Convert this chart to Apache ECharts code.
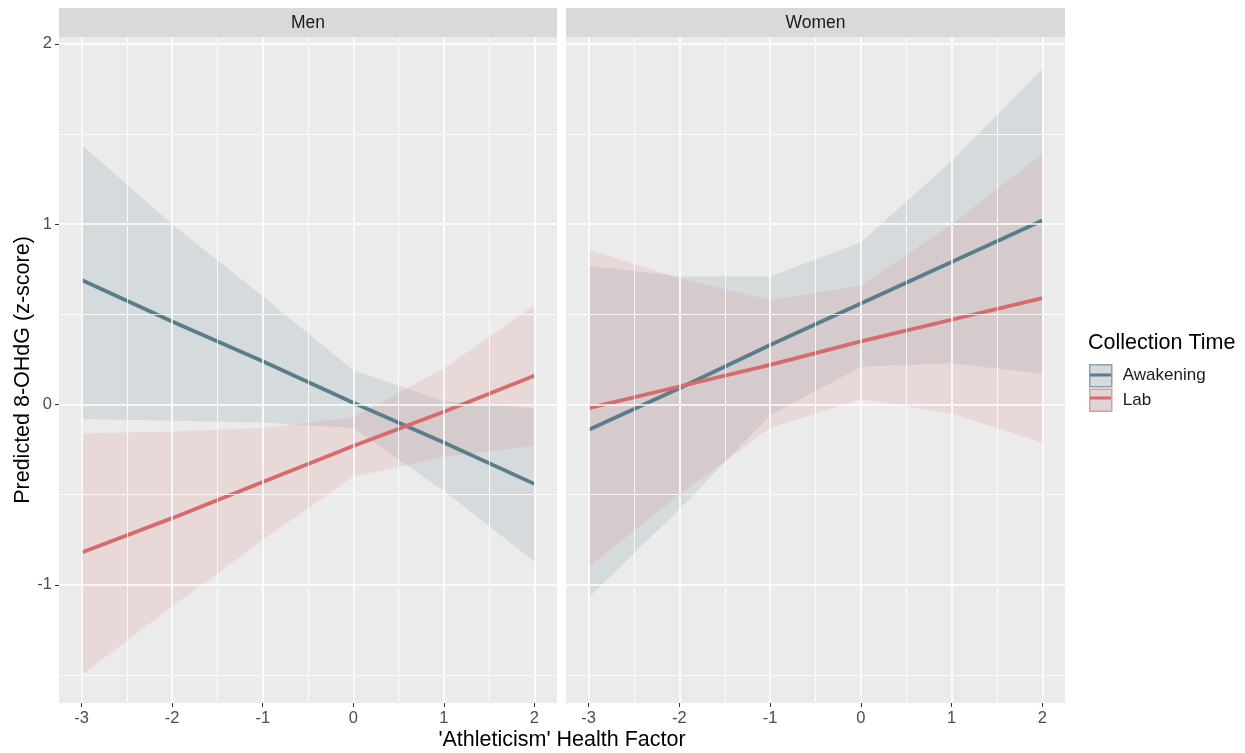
<!DOCTYPE html>
<html><head><meta charset="utf-8">
<script src="https://cdn.jsdelivr.net/npm/echarts@6/dist/echarts.min.js"></script>
<style>html,body{margin:0;padding:0;background:#fff}#c{width:1245px;height:753px}</style>
</head><body><div id="c"></div>
<script>
// ---- data ----
const xValues = [-3, -2, -1, 0, 1, 2];
const panels = ['Men', 'Women'];
const groups = ['Awakening', 'Lab'];

const menAwakFit = [0.69, 0.46, 0.24, 0.01, -0.21, -0.44];
const menAwakLo  = [-0.08, -0.09, -0.10, -0.13, -0.48, -0.87];
const menAwakHi  = [1.44, 1.00, 0.60, 0.19, 0.02, -0.02];
const menLabFit  = [-0.82, -0.63, -0.43, -0.23, -0.04, 0.16];
const menLabLo   = [-1.50, -1.12, -0.75, -0.40, -0.29, -0.23];
const menLabHi   = [-0.16, -0.15, -0.13, -0.07, 0.20, 0.55];

const womAwakFit = [-0.14, 0.09, 0.33, 0.56, 0.79, 1.02];
const womAwakLo  = [-1.07, -0.58, -0.06, 0.21, 0.23, 0.17];
const womAwakHi  = [0.77, 0.71, 0.71, 0.90, 1.35, 1.86];
const womLabFit  = [-0.02, 0.10, 0.22, 0.35, 0.47, 0.59];
const womLabLo   = [-0.90, -0.50, -0.13, 0.03, -0.05, -0.21];
const womLabHi   = [0.86, 0.70, 0.58, 0.66, 1.00, 1.39];

const xTickValues = [-3, -2, -1, 0, 1, 2];
const xMinorValues = [-2.5, -1.5, -0.5, 0.5, 1.5];
const yTickValues = [-1, 0, 1, 2];
const yMinorValues = [-1.5, -0.5, 0.5, 1.5];

const xTitle = "'Athleticism' Health Factor";
const yTitle = 'Predicted 8-OHdG (z-score)';
const legendTitle = 'Collection Time';

// ---- styling ----
const FONT = 'Liberation Sans, Arial, sans-serif';
const lineColors = {Awakening: '#5A7D8C', Lab: '#D76B6B'};
const fillColors = {Awakening: 'rgba(90,125,140,0.15)', Lab: 'rgba(215,107,107,0.15)'};
const X_MIN = -3.25, X_MAX = 2.25, Y_MIN = -1.655, Y_MAX = 2.038;

const panelData = [
  {Awakening: [menAwakFit, menAwakLo, menAwakHi], Lab: [menLabFit, menLabLo, menLabHi]},
  {Awakening: [womAwakFit, womAwakLo, womAwakHi], Lab: [womLabFit, womLabLo, womLabHi]}
];

const grids = [
  {left: 59, top: 37, width: 498, height: 666},
  {left: 566, top: 37, width: 499, height: 666}
];

const chart = echarts.init(document.getElementById('c'), null, {renderer: 'canvas'});

const xAxes = grids.map((g, i) => ({
  type: 'value', gridIndex: i, min: X_MIN, max: X_MAX, position: 'bottom',
  axisLine: {show: false, onZero: false}, splitLine: {show: false},
  axisTick: {show: true, length: 4, lineStyle: {color: '#333', width: 1}, customValues: xTickValues},
  axisLabel: {customValues: xTickValues, color: '#4D4D4D', fontSize: 16.5, fontFamily: FONT, margin: 7}
}));
const yAxes = grids.map((g, i) => ({
  type: 'value', gridIndex: i, min: Y_MIN, max: Y_MAX, position: 'left',
  axisLine: {show: false, onZero: false}, splitLine: {show: false},
  axisTick: {show: i === 0, length: 4, lineStyle: {color: '#333', width: 1}, customValues: yTickValues},
  axisLabel: {show: i === 0, customValues: yTickValues, color: '#4D4D4D', fontSize: 16.5, fontFamily: FONT, margin: 7}
}));

const series = [];
grids.forEach((g, i) => {
  const md = [];
  yMinorValues.forEach(v => md.push({yAxis: v, lineStyle: {color: '#fff', width: 0.8, type: 'solid'}}));
  xMinorValues.forEach(v => md.push({xAxis: v, lineStyle: {color: '#fff', width: 0.8, type: 'solid'}}));
  yTickValues.forEach(v => md.push({yAxis: v, lineStyle: {color: '#fff', width: 1.6, type: 'solid'}}));
  xTickValues.forEach(v => md.push({xAxis: v, lineStyle: {color: '#fff', width: 1.6, type: 'solid'}}));
  series.push({
    type: 'line', name: 'grid' + i, xAxisIndex: i, yAxisIndex: i, data: [], z: 1, silent: true,
    markLine: {silent: true, symbol: ['none', 'none'], label: {show: false}, animation: false, data: md}
  });
  groups.forEach(gr => {
    const [fit, lo, hi] = panelData[i][gr];
    series.push({
      type: 'custom', name: gr + ' CI ' + panels[i], xAxisIndex: i, yAxisIndex: i, z: 2, silent: true,
      data: xValues.map((x, k) => [x, lo[k], hi[k]]),
      encode: {x: 0, y: [1, 2]},
      renderItem: (params, api) => {
        if (params.dataIndex !== 0) return null;
        const pts = [];
        for (let k = 0; k < xValues.length; k++) pts.push(api.coord([xValues[k], hi[k]]));
        for (let k = xValues.length - 1; k >= 0; k--) pts.push(api.coord([xValues[k], lo[k]]));
        return {type: 'polygon', shape: {points: pts}, style: {fill: fillColors[gr]}};
      }
    });
  });
  groups.forEach(gr => {
    const [fit] = panelData[i][gr];
    series.push({
      type: 'line', name: gr, xAxisIndex: i, yAxisIndex: i, z: 3,
      data: xValues.map((x, k) => [x, fit[k]]),
      showSymbol: false, symbol: 'none', animation: false,
      lineStyle: {color: lineColors[gr], width: 3.8, cap: 'butt'},
      itemStyle: {color: lineColors[gr]}
    });
  });
});

const graphics = [];
grids.forEach((g, i) => {
  graphics.push({type: 'rect', left: g.left, top: 8, shape: {width: g.width, height: 29}, style: {fill: '#D9D9D9'}, silent: true});
  graphics.push({type: 'text', x: g.left + g.width / 2, y: 23, silent: true,
    style: {text: panels[i], font: '17.5px ' + FONT, fill: '#1A1A1A', textAlign: 'center', textVerticalAlign: 'middle'}});
});
graphics.push({type: 'text', x: 562, y: 740, silent: true,
  style: {text: xTitle, font: '21.5px ' + FONT, fill: '#000', textAlign: 'center', textVerticalAlign: 'middle'}});
graphics.push({type: 'text', x: 23, y: 370, rotation: Math.PI / 2, silent: true,
  style: {text: yTitle, font: '21.5px ' + FONT, fill: '#000', textAlign: 'center', textVerticalAlign: 'middle'}});
graphics.push({type: 'text', x: 1088, y: 343, silent: true,
  style: {text: legendTitle, font: '21.5px ' + FONT, fill: '#000', textAlign: 'left', textVerticalAlign: 'middle'}});
graphics.push({type: 'rect', left: 1090, top: 373.5, z: 20, shape: {width: 21, height: 3}, style: {fill: lineColors.Awakening}, silent: true});
graphics.push({type: 'rect', left: 1090, top: 396.5, z: 20, shape: {width: 21, height: 3}, style: {fill: lineColors.Lab}, silent: true});

chart.setOption({
  animation: false,
  backgroundColor: '#FFFFFF',
  grid: grids.map(g => Object.assign({show: true, backgroundColor: '#EBEBEB', borderWidth: 0, containLabel: false}, g)),
  xAxis: xAxes,
  yAxis: yAxes,
  legend: {
    orient: 'vertical', left: 1089, top: 364, padding: 0, itemWidth: 22, itemHeight: 22, itemGap: 1,
    icon: 'rect', selectedMode: false, z: 4,
    textStyle: {fontSize: 17, color: '#1A1A1A', fontFamily: FONT, padding: [0, 0, 0, 6]},
    data: [
      {name: 'Awakening', itemStyle: {color: '#D6DADC', borderColor: '#8AA0AA', borderWidth: 1.5}},
      {name: 'Lab', itemStyle: {color: '#DED6D6', borderColor: '#E39A9A', borderWidth: 1.5}}
    ]
  },
  series: series,
  graphic: graphics
});
</script></body></html>
